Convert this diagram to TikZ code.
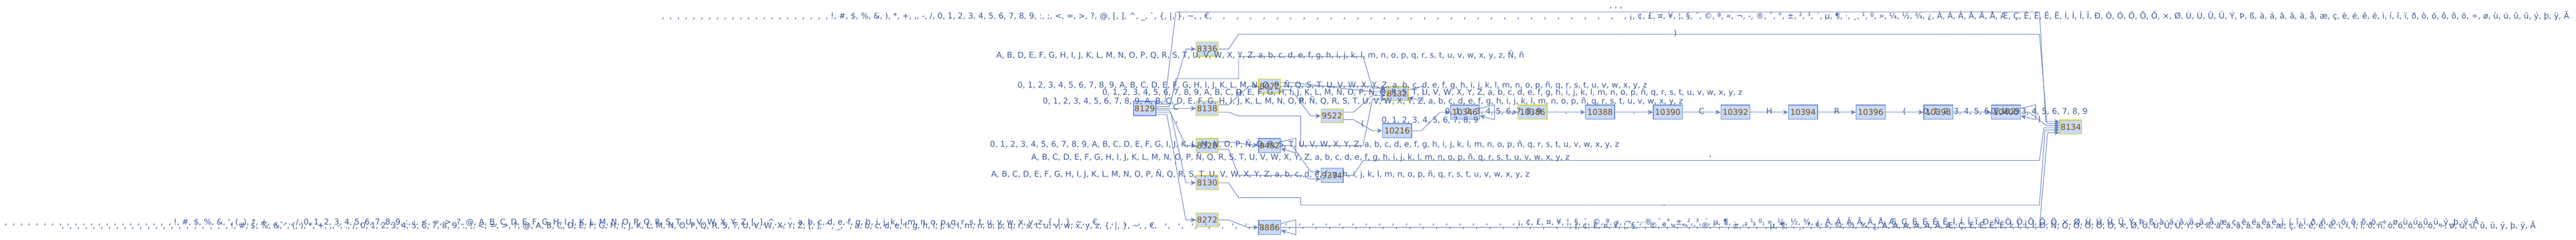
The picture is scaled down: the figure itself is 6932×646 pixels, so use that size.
\documentclass[tikz,border=0pt]{standalone}
\usepackage{fontspec}
\newfontfamily\labfont{DejaVu Sans}
\usetikzlibrary{arrows.meta}
\definecolor{nfill}{RGB}{198,217,254}
\definecolor{nbord}{RGB}{106,137,197}
\definecolor{nyel}{RGB}{214,208,20}
\definecolor{nstart}{RGB}{30,50,250}
\definecolor{ntext}{RGB}{124,74,0}
\definecolor{ltext}{RGB}{63,91,153}
\definecolor{ecol}{RGB}{108,135,196}
\newcommand{\cb}{\hspace{7.3pt}, }
\newcommand{\hb}{\hspace{22.3pt}, }
\newcommand{\cbx}{\cb\cb\cb\cb\cb\cb\cb\cb\cb\cb\cb}
\newcommand{\hbx}{\hb\hb\hb\hb\hb\hb\hb\hb\hb\hb}
\newcommand{\rDig}{0, 1, 2, 3, 4, 5, 6, 7, 8, 9}
\newcommand{\rUp}{A, B, C, D, E, F, G, H, I, J, K, L, M, N, O, P, Ñ, Q, R, S, T, U, V, W, X, Y, Z}
\newcommand{\rLo}{a, b, c, d, e, f, g, h, i, j, k, l, m, n, o, p, ñ, q, r, s, t, u, v, w, x, y, z}
\newcommand{\rUpA}{A, B, C, D, E, F, G, H, I, J, K, L, M, N, O, P, Q, R, S, T, U, V, W, X, Y, Z}
\newcommand{\rLoA}{a, b, c, d, e, f, g, h, i, j, k, l, m, n, o, p, q, r, s, t, u, v, w, x, y, z}
\newcommand{\rLatA}{¡, ¢, £, ¤, ¥, ¦, §, ¨, ©, ª, «, ¬, -, ®, ¯, °, ±, ², ³, ´, µ, ¶, ·, ¸, ¹, º, », ¼, ½, ¾, ¿, À, Á, Â, Ã, Ä, Å, Æ, Ç, È, É, Ê, Ë, Ì, Í, Î, Ï, Ð, Ò, Ó, Ô, Õ, Ö, ×, Ø, Ù, Ú, Û, Ü, Ý, Þ, ß, à, á, â, ã, ä, å, æ, ç, è, é, ê, ë, ì, í, î, ï, ð, ò, ó, ô, õ, ö, ÷, ø, ù, ú, û, ü, ý, þ, ÿ, Ā}
\newcommand{\rLatB}{¡, ¢, £, ¤, ¥, ¦, §, ¨, ©, ª, «, ¬, -, ®, ¯, °, ±, ², ³, ´, µ, ¶, ·, ¸, ¹, º, », ¼, ½, ¾, ¿, À, Á, Â, Ã, Ä, Å, Æ, Ç, È, É, Ê, Ë, Ì, Í, Î, Ï, Ð, Ñ, Ò, Ó, Ô, Õ, Ö, ×, Ø, Ù, Ú, Û, Ü, Ý, Þ, ß, à, á, â, ã, ä, å, æ, ç, è, é, ê, ë, ì, í, î, ï, ð, ñ, ò, ó, ô, õ, ö, ÷, ø, ù, ú, û, ü, ý, þ, ÿ, Ā}
\newcommand{\rTop}{\cbx\cbx !, \#, \$, \%, \&, ), *, +, ,, -, /, \rDig, :, ;, <, =, >, ?, @, [, ], \symbol{94}, \_, `, \{, |, \}, \symbol{126}, , €, \hbx\hbx\hbx\hb \rLatA}
\newcommand{\rBot}{\cbx\cbx !, \#, \$, \%, \&, ', (, ), *, +, ,, -, ., /, \rDig, :, ;, <, =, >, ?, @, \rUpA, [, ], \symbol{94}, \_, `, \rLoA, \{, |, \}, \symbol{126}, , €, \hbx\hbx\hbx\hb \rLatB}
\tikzset{
 nbox/.style={draw=nbord, fill=nfill, line width=1.8pt, minimum height=38.2pt, inner sep=0pt, text=ntext, font={\fontsize{21.55}{24}\labfont}},
 n4/.style={nbox, minimum width=59.2pt},
 n5/.style={nbox, minimum width=78.2pt},
 acc/.style={draw=nyel},
 startn/.style={draw=nstart},
 edge/.style={draw=ecol, line width=1.6pt, -{Stealth[length=14pt,width=13pt,inset=4pt]}},
 lab/.style={anchor=base west, inner sep=0pt, text=ltext, font={\fontsize{21.55}{24}\labfont}},
 clab/.style={anchor=base, inner sep=0pt, text=ltext, font={\fontsize{21.55}{24}\labfont}},
}
\begin{document}
\begin{tikzpicture}[x=1pt,y=-1pt]
\useasboundingbox (0,0) rectangle (6932,646);
\fill[white] (0,0) rectangle (6932,646);
% nodes
\node[n4,startn] (n8129) at (3080.5,292) {8129};
\node[n4,acc] (n8336) at (3248.5,132) {8336};
\node[n4,acc] (n8138) at (3248.5,292) {8138};
\node[n4,acc] (n8328) at (3248.5,392) {8328};
\node[n4,acc] (n8130) at (3248.5,492) {8130};
\node[n4,acc] (n8272) at (3248.5,592) {8272};
\node[n4,acc] (n8072) at (3416.5,232) {8072};
\node[n4] (n9482) at (3416.5,392) {9482};
\node[n4] (n8886) at (3416.5,612) {8886};
\node[n4,acc] (n9522) at (3584.5,312) {9522};
\node[n4] (n9374) at (3584.5,472) {9374};
\node[n4,acc] (n8132) at (3759.5,252) {8132};
\node[n5] (n10216) at (3759.5,352) {10216};
\node[n5] (n10346) at (3942,302) {10346};
\node[n5,acc] (n10386) at (4124,302) {10386};
\node[n5] (n10388) at (4306,302) {10388};
\node[n5] (n10390) at (4488,302) {10390};
\node[n5] (n10392) at (4670,302) {10392};
\node[n5] (n10394) at (4852,302) {10394};
\node[n5] (n10396) at (5034,302) {10396};
\node[n5] (n10398) at (5216,302) {10398};
\node[n5] (n10400) at (5398,302) {10400};
\node[n4,acc] (n8134) at (5572.5,342) {8134};
% edges
\draw[edge] ([yshift=18pt]n8129.east) -- (3135,274) -- (3164,32) -- (5488,32) -- (5505,327) -- ([yshift=15pt]n8134.west);
\draw[edge] ([yshift=12pt]n8129.east) -- (3150,280) -- (3164,212) -- (3333,212) -- (3333,152) -- (3668,152) -- (3693,237) -- ([yshift=15pt]n8132.west);
\draw[edge] ([yshift=5pt]n8129.east) -- (3146,287) -- (3191,132) -- (n8336.west);
\draw[edge] (n8129.east) -- (n8138.west);
\draw[edge] ([yshift=-4pt]n8129.east) -- (3146,296) -- (3191,392) -- (n8328.west);
\draw[edge] ([yshift=-10pt]n8129.east) -- (3150,302) -- (3191,492) -- (n8130.west);
\draw[edge] ([yshift=-16pt]n8129.east) -- (3140,308) -- (3191,592) -- (n8272.west);
\draw[edge] (n8336.east) -- (3306,132) -- (3333,92) -- (5488,92) -- (5508,332) -- ([yshift=10pt]n8134.west);
\draw[edge] ([yshift=10pt]n8138.east) -- (3306,282) -- (3361,232) -- (n8072.west);
\draw[edge] ([yshift=-10pt]n8138.east) -- (3306,302) -- (3333,312) -- (3500,312) -- (3500,392) -- (3668,392) -- (3693,267) -- ([yshift=-15pt]n8132.west);
\draw[edge] ([yshift=10pt]n8072.east) -- (3475,222) -- (3693,247) -- ([yshift=5pt]n8132.west);
\draw[edge] (n8072.east) -- (3700,232) -- ([yshift=10pt]n8132.west);
\draw[edge] ([yshift=-10pt]n8072.east) -- (3475,242) -- (3527,312) -- (n9522.west);
\draw[edge] ([yshift=10pt]n9522.east) -- (3642,302) -- (3693,257) -- ([yshift=-5pt]n8132.west);
\draw[edge] ([yshift=-10pt]n9522.east) -- (3642,322) -- (3693,352) -- (n10216.west);
\draw[edge] ([yshift=10pt]n8132.east) -- (3829,232) -- (3829,272) -- ([yshift=-10pt]n8132.east);
\draw[edge] (n10216.east) -- (3825,352) -- (3875,302) -- (n10346.west);
\draw[edge] ([yshift=10pt]n10346.east) -- (4022,282) -- (4022,322) -- ([yshift=-10pt]n10346.east);
\draw[edge] (n10346.east) -- (n10386.west);
\draw[edge] (n10386.east) -- (n10388.west);
\draw[edge] (n10388.east) -- (n10390.west);
\draw[edge] (n10390.east) -- (n10392.west);
\draw[edge] (n10392.east) -- (n10394.west);
\draw[edge] (n10394.east) -- (n10396.west);
\draw[edge] (n10396.east) -- (n10398.west);
\draw[edge] (n10398.east) -- (n10400.west);
\draw[edge] ([yshift=10pt]n10400.east) -- (5478,282) -- (5478,322) -- ([yshift=-10pt]n10400.east);
\draw[edge] (n10400.east) -- (5460,302) -- (5507,338) -- ([yshift=4pt]n8134.west);
\draw[edge] ([yshift=10pt]n8328.east) -- (3306,382) -- (n9482.west);
\draw[edge] ([yshift=-10pt]n8328.east) -- (3306,402) -- (3333,472) -- (3500,472) -- (3527,482) -- ([yshift=-10pt]n9374.west);
\draw[edge] ([yshift=10pt]n9482.east) -- (3487,372) -- (3487,412) -- ([yshift=-8pt]n9482.east);
\draw[edge] (n9482.east) -- (3477,392) -- (3527,462) -- ([yshift=10pt]n9374.west);
\draw[edge] (n9374.east) -- (3642,472) -- (3668,432) -- (5488,432) -- (5500,344) -- ([yshift=-2pt]n8134.west);
\draw[edge] (n8130.east) -- (3306,492) -- (3333,532) -- (3500,532) -- (3500,552) -- (5488,552) -- (5503,350) -- ([yshift=-8pt]n8134.west);
\draw[edge] (n8272.east) -- (3306,592) -- (3357,612) -- (n8886.west);
\draw[edge] ([yshift=10pt]n8886.east) -- (3487,592) -- (3487,632) -- ([yshift=-8pt]n8886.east);
\draw[edge] (n8886.east) -- (5488,612) -- (5510,357) -- ([yshift=-15pt]n8134.west);
% long labels
\node[lab] (ltop) at (1773,50) {\rTop};
\node[lab] (ltopb) at (4331,21) {, , ,};
\node[lab] (l152) at (2681,156) {A, B, D, E, F, G, H, I, J, K, L, M, N, O, P, Q, R, S, T, U, V, W, X, Y, Z, a, b, c, d, e, f, g, h, i, j, k, l, m, n, o, p, q, r, s, t, u, v, w, x, y, z, Ñ, ñ};
\node[lab] (l228) at (2738,236) {\rDig, A, B, C, D, E, F, G, H, I, J, K, L, M, N, O, P, Ñ, Q, S, T, U, V, W, X, Y, Z, \rLo};
\node[lab] (l248) at (2966,256) {\rDig, \rUp, \rLo};
\node[lab] (l272) at (2806,280) {\rDig, \rUp, \rLo};
\node[lab] (l388) at (2664,396) {\rDig, A, B, C, D, E, F, G, I, J, K, L, M, N, O, P, Ñ, Q, R, S, T, U, V, W, X, Y, Z, \rLo};
\node[lab] (l423) at (2775,431) {\rUp, \rLo};
\node[lab] (l468) at (2667,476) {\rUp, \rLo};
\node[lab] (ld1) at (3718,331) {\rDig};
\node[lab] (ld2) at (3888,307) {\rDig};
\node[lab] (ld3) at (5175,307) {\rDig};
\node[lab] (ld4) at (5357,307) {\rDig};
\node[lab] (lbot1) at (5,605) {\rBot};
\node[lab] (lbot2) at (158,615) {\rBot};
% short labels
\node[clab] (lc1) at (3164,296) {C};
\node[clab] (lq1) at (3166,343) {'};
\node[clab] (lq2) at (3164,452) {'};
\node[clab] (lh1) at (3333,258) {H};
\node[clab] (lr1) at (3502,280) {R};
\node[clab] (lp1) at (3667,341) {(};
\node[clab] (lp2) at (4508,96) {)};
\node[clab] (lq3) at (4602,434) {'};
\node[clab] (ldt) at (4478,555) {.};
\node[clab] (lp3) at (5488,328) {)};
\node[clab] (lk1) at (4215,307) {.};
\node[clab] (lk2) at (4397,307) {.};
\node[clab] (lk3) at (4579,307) {C};
\node[clab] (lk4) at (4761,307) {H};
\node[clab] (lk5) at (4943,307) {R};
\node[clab] (lk6) at (5125,307) {(};
\end{tikzpicture}
\end{document}
